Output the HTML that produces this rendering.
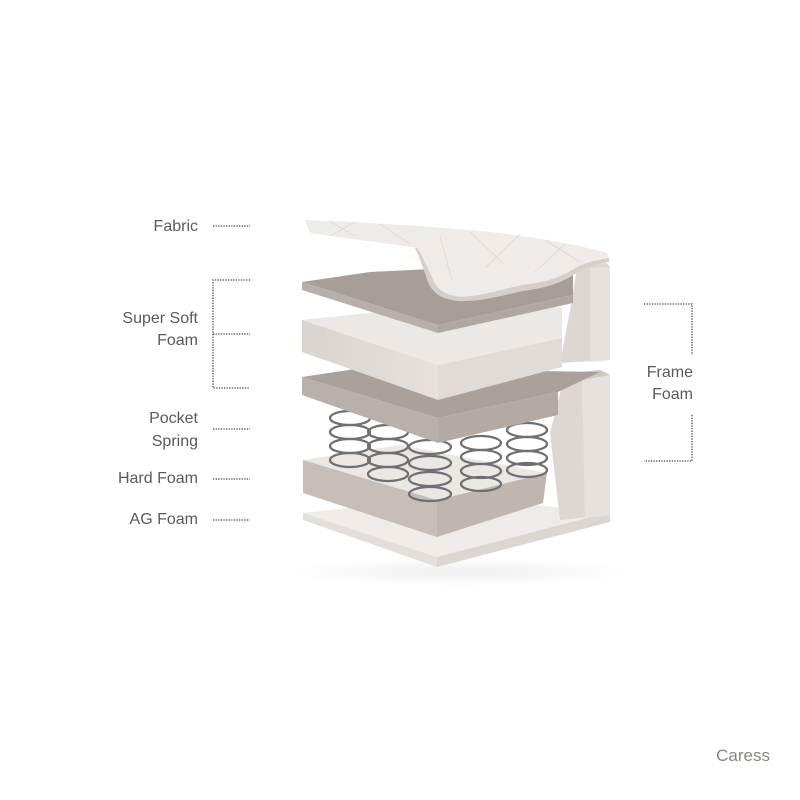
<!DOCTYPE html>
<html><head><style>
body{margin:0;background:#fff;}
svg{display:block}
text{font-family:"Liberation Sans",sans-serif;font-size:16px;fill:#5a5a5a}
</style></head><body>
<svg width="800" height="800" viewBox="0 0 800 800" xmlns="http://www.w3.org/2000/svg">
<defs>
<radialGradient id="sh" cx="0.5" cy="0.5" r="0.5"><stop offset="0" stop-color="#000" stop-opacity="0.07"/><stop offset="1" stop-color="#000" stop-opacity="0"/></radialGradient>
<linearGradient id="g2" x1="0" y1="0" x2="1" y2="0"><stop offset="0" stop-color="#d9d3ce"/><stop offset="1" stop-color="#e6e1dd"/></linearGradient>
</defs>
<ellipse cx="460" cy="572" rx="170" ry="14" fill="url(#sh)"/>
<!-- AG foam -->
<polygon points="303,513 450,497 610,512 437,557" fill="#efebe8"/>
<polygon points="303,513 437,557 437,567 303,520" fill="#e3dedA"/>
<polygon points="437,557 610,512 610,522 437,567" fill="#dcd6d1"/>
<!-- lower frame column -->
<polygon points="563,382 573,373 600,370 610,375 610,515 560,520 550,433" fill="#ddd7d2"/>
<polygon points="573,373 600,370 610,375 582,380" fill="#cfc8c2"/>
<polygon points="582,380 610,375 610,515 585,518" fill="#e6e1dd"/>
<!-- hard foam -->
<polygon points="303,460 400,445 547,473 437,500" fill="#ebe7e3"/>
<polygon points="303,460 437,500 437,537 303,493" fill="#c7beb7"/>
<polygon points="437,500 547,473 543,503 437,537" fill="#bfb6af"/>
<!-- springs -->
<g fill="none" stroke="#707072" stroke-width="2.3">
<g><ellipse cx="350" cy="418" rx="20" ry="7"/><ellipse cx="350" cy="432" rx="20" ry="7"/><ellipse cx="350" cy="446" rx="20" ry="7"/><ellipse cx="350" cy="460" rx="20" ry="7"/></g>
<g><ellipse cx="388" cy="432" rx="20" ry="7"/><ellipse cx="388" cy="446" rx="20" ry="7"/><ellipse cx="388" cy="460" rx="20" ry="7"/><ellipse cx="388" cy="474" rx="20" ry="7"/></g>
<g><ellipse cx="430" cy="447" rx="21" ry="7"/><ellipse cx="430" cy="463" rx="21" ry="7"/><ellipse cx="430" cy="479" rx="21" ry="7"/><ellipse cx="430" cy="494" rx="21" ry="7"/></g>
<g><ellipse cx="481" cy="443" rx="20" ry="7"/><ellipse cx="481" cy="457" rx="20" ry="7"/><ellipse cx="481" cy="471" rx="20" ry="7"/><ellipse cx="481" cy="484" rx="20" ry="7"/></g>
<g><ellipse cx="527" cy="430" rx="20" ry="7"/><ellipse cx="527" cy="444" rx="20" ry="7"/><ellipse cx="527" cy="458" rx="20" ry="7"/><ellipse cx="527" cy="470" rx="20" ry="7"/></g>
</g>
<!-- layer 3 dark -->
<polygon points="302,377 362,368 600,372 558,392 438,418" fill="#aaa19a"/>
<polygon points="302,377 438,418 438,443 302,395" fill="#b9b0a9"/>
<polygon points="438,418 558,392 558,415 438,443" fill="#b3aaa3"/>
<!-- upper frame column -->
<polygon points="577,267 583,265 607,263 610,267 610,360 560,363 572,300" fill="#ddd7d2"/>
<polygon points="590,268 610,267 610,360 590,362" fill="#e6e1dd"/>
<!-- layer 2 -->
<polygon points="302,320 378,312 562,307 562,338 438,365" fill="#ece8e5"/>
<polygon points="302,320 438,365 438,400 302,352" fill="url(#g2)"/>
<polygon points="438,365 562,338 562,367 438,400" fill="#e0dbd6"/>
<!-- layer 1 dark -->
<polygon points="302,282 370,272 573,262 573,295 438,325" fill="#a79e97"/>
<polygon points="302,282 438,325 438,333 302,290" fill="#b8afa8"/>
<polygon points="438,325 573,295 573,303 438,333" fill="#b0a7a0"/>
<!-- fabric -->
<path d="M305,220 C360,222 430,226 490,232 C540,238 585,246 607,253 L609,258 C595,260 585,263 577,267 C560,278 545,283 523,285 C500,290 480,297 460,297 C445,295 438,290 434,282 C428,270 424,258 417,248 C380,242 340,238 310,233 Z" fill="#efebe8"/>
<path d="M417,248 C424,258 428,270 434,282 C438,290 445,295 460,297 C480,297 500,290 523,285 C545,283 560,278 577,267 C585,263 595,260 609,258 L609,262 C595,264 585,268 578,272 C560,284 545,288 523,291 C500,296 480,302 458,301 C440,299 432,292 428,282 C423,268 420,258 415,248 Z" fill="#d6cfc9"/>
<g stroke="#ddd7d2" stroke-width="0.8" fill="none">
<path d="M330,221 L355,236 M355,222 L330,236 M380,224 L410,244 M470,232 L505,265 M520,234 L485,268 M545,240 L580,262 M565,244 L535,272 M440,236 L452,280"/>
</g>
<!-- labels -->
<g text-anchor="end">
<text x="198" y="231">Fabric</text>
<text x="198" y="323">Super Soft</text>
<text x="198" y="345">Foam</text>
<text x="198" y="423">Pocket</text>
<text x="198" y="446">Spring</text>
<text x="198" y="483">Hard Foam</text>
<text x="198" y="524">AG Foam</text>
<text x="693" y="377">Frame</text>
<text x="693" y="399">Foam</text>
</g>
<text x="770" y="761" text-anchor="end" style="font-size:17px;fill:#8c8580">Caress</text>
<g stroke="#444" stroke-width="1.3" stroke-dasharray="1.3,1.3" fill="none">
<path d="M213,226 H250 M213,429 H250 M213,479 H250 M213,520 H250"/>
<path d="M250,280 H213 V388 H250 M213,334 H250"/>
<path d="M644,304 H692 V355 M692,415 V461 H644"/>
</g>
</svg>
</body></html>
